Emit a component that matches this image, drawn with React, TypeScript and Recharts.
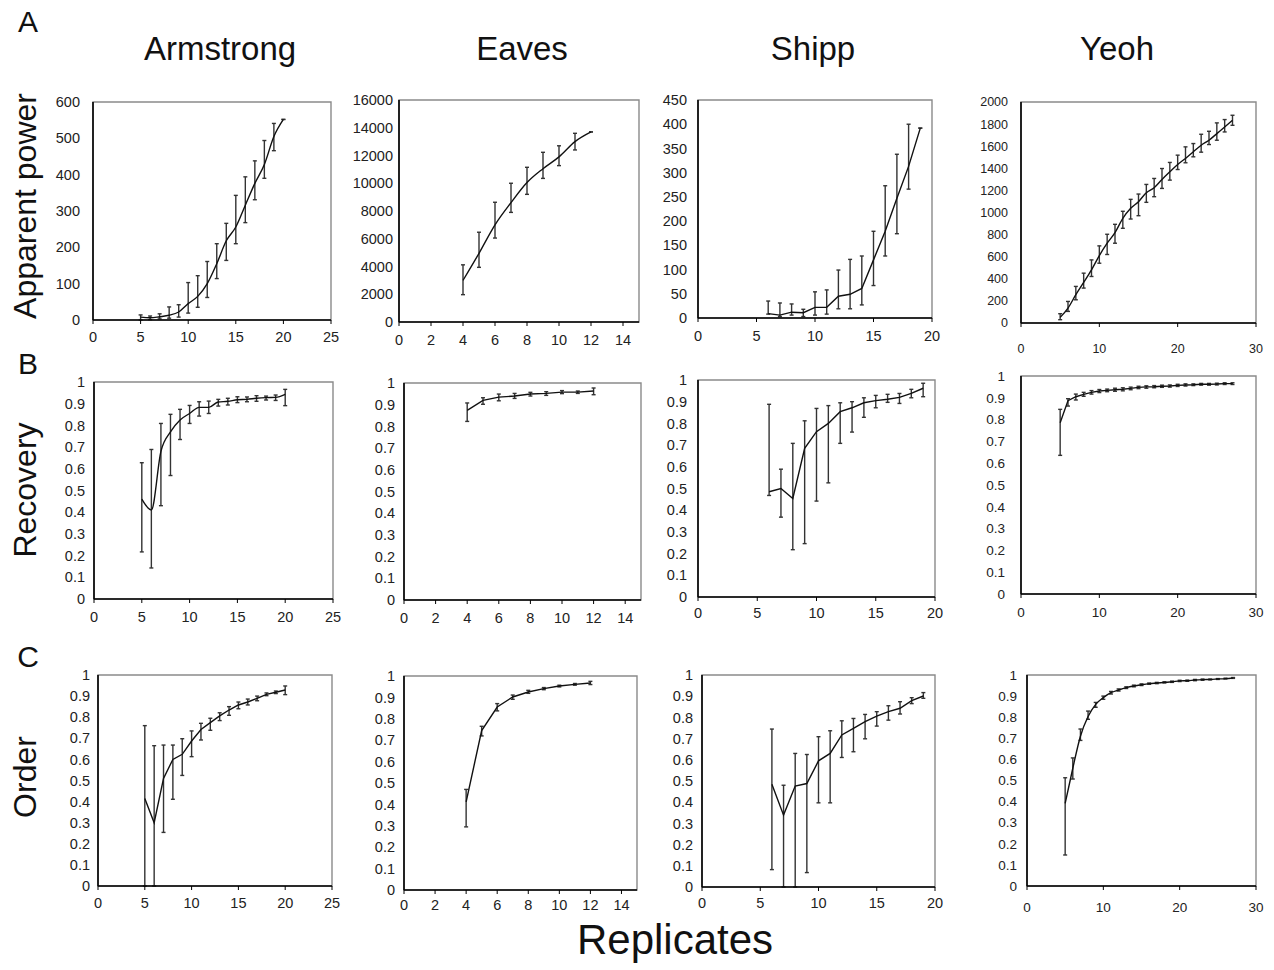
import React from 'react'
import { LineChart, Line, XAxis, YAxis, ErrorBar, ReferenceArea } from 'recharts'

// replicate counts per study
const armstrongX = [5, 6, 7, 8, 9, 10, 11, 12, 13, 14, 15, 16, 17, 18, 19, 20]
const eavesX = [4, 5, 6, 7, 8, 9, 10, 11, 12]
const shippX = [6, 7, 8, 9, 10, 11, 12, 13, 14, 15, 16, 17, 18, 19]
const yeohX = [5, 6, 7, 8, 9, 10, 11, 12, 13, 14, 15, 16, 17, 18, 19, 20, 21, 22, 23, 24, 25, 26, 27]

// A: apparent power
const armstrongPower = [8, 6, 9, 13, 22, 45, 65, 100, 155, 218, 256, 316, 376, 428, 505, 552]
const armstrongPowerLow = [0, 1, 3, 5, 8, 19, 35, 62, 114, 164, 210, 268, 331, 390, 466, 552]
const armstrongPowerHigh = [14, 11, 17, 36, 42, 103, 122, 161, 210, 266, 343, 394, 438, 494, 541, 552]

const eavesPower = [3000, 4950, 7000, 8600, 10050, 11050, 11900, 13000, 13700]
const eavesPowerLow = [1970, 3940, 6050, 7900, 9200, 10350, 11270, 12400, 13700]
const eavesPowerHigh = [4120, 6470, 8630, 10000, 11150, 12230, 12700, 13600, 13700]

const shippPower = [9, 6, 12, 11, 22, 22, 45, 49, 61, 120, 179, 247, 313, 392]
const shippPowerLow = [8, 3, 6, 3, 6, 8, 19, 19, 27, 67, 128, 174, 266, 392]
const shippPowerHigh = [35, 31, 29, 18, 54, 58, 99, 121, 128, 179, 273, 338, 400, 392]

const yeohPower = [51, 135, 256, 367, 481, 610, 722, 818, 947, 1038, 1098, 1179, 1224, 1299, 1368, 1435, 1489, 1549, 1609, 1654, 1714, 1774, 1835]
const yeohPowerLow = [30, 105, 210, 316, 421, 541, 620, 722, 857, 941, 971, 1092, 1143, 1218, 1293, 1389, 1450, 1504, 1546, 1615, 1654, 1729, 1789]
const yeohPowerHigh = [84, 195, 331, 451, 571, 698, 803, 893, 1011, 1119, 1167, 1254, 1308, 1398, 1453, 1519, 1594, 1624, 1708, 1735, 1811, 1841, 1880]

// B: recovery
const armstrongRecovery = [0.46, 0.41, 0.68, 0.77, 0.825, 0.855, 0.883, 0.883, 0.908, 0.911, 0.918, 0.92, 0.925, 0.928, 0.929, 0.943]
const armstrongRecoveryLow = [0.217, 0.143, 0.43, 0.569, 0.735, 0.809, 0.843, 0.855, 0.889, 0.894, 0.905, 0.909, 0.911, 0.917, 0.915, 0.891]
const armstrongRecoveryHigh = [0.628, 0.689, 0.809, 0.851, 0.874, 0.892, 0.909, 0.912, 0.92, 0.925, 0.932, 0.931, 0.937, 0.935, 0.94, 0.966]

const eavesRecovery = [0.874, 0.92, 0.935, 0.94, 0.949, 0.952, 0.958, 0.958, 0.963]
const eavesRecoveryLow = [0.823, 0.902, 0.918, 0.929, 0.94, 0.943, 0.951, 0.952, 0.946]
const eavesRecoveryHigh = [0.908, 0.932, 0.949, 0.952, 0.957, 0.96, 0.965, 0.963, 0.977]

const shippRecovery = [0.485, 0.5, 0.454, 0.685, 0.762, 0.8, 0.854, 0.872, 0.895, 0.905, 0.911, 0.92, 0.938, 0.962]
const shippRecoveryLow = [0.468, 0.368, 0.218, 0.246, 0.442, 0.526, 0.708, 0.76, 0.828, 0.872, 0.897, 0.892, 0.918, 0.923]
const shippRecoveryHigh = [0.888, 0.589, 0.708, 0.812, 0.869, 0.882, 0.895, 0.9, 0.918, 0.929, 0.934, 0.938, 0.957, 0.985]

const yeohRecovery = [0.786, 0.887, 0.905, 0.916, 0.925, 0.931, 0.934, 0.937, 0.939, 0.943, 0.948, 0.95, 0.951, 0.953, 0.954, 0.957, 0.959, 0.96, 0.962, 0.962, 0.963, 0.965, 0.965]
const yeohRecoveryLow = [0.636, 0.862, 0.89, 0.907, 0.917, 0.924, 0.928, 0.93, 0.932, 0.937, 0.942, 0.944, 0.946, 0.948, 0.949, 0.952, 0.954, 0.956, 0.958, 0.958, 0.959, 0.961, 0.961]
const yeohRecoveryHigh = [0.847, 0.896, 0.917, 0.925, 0.933, 0.938, 0.94, 0.944, 0.946, 0.949, 0.953, 0.955, 0.956, 0.958, 0.959, 0.962, 0.964, 0.964, 0.966, 0.966, 0.967, 0.969, 0.969]

// C: order
const armstrongOrder = [0.415, 0.3, 0.51, 0.6, 0.624, 0.687, 0.742, 0.774, 0.806, 0.834, 0.858, 0.872, 0.889, 0.908, 0.918, 0.929]
const armstrongOrderLow = [0, 0, 0.254, 0.411, 0.524, 0.613, 0.692, 0.738, 0.784, 0.809, 0.84, 0.858, 0.878, 0.902, 0.912, 0.907]
const armstrongOrderHigh = [0.76, 0.665, 0.668, 0.668, 0.698, 0.735, 0.771, 0.795, 0.821, 0.85, 0.872, 0.886, 0.9, 0.915, 0.924, 0.948]

const eavesOrder = [0.412, 0.745, 0.855, 0.902, 0.925, 0.941, 0.953, 0.961, 0.967]
const eavesOrderLow = [0.295, 0.72, 0.837, 0.891, 0.919, 0.936, 0.949, 0.957, 0.96]
const eavesOrderHigh = [0.47, 0.765, 0.871, 0.911, 0.933, 0.946, 0.957, 0.965, 0.975]

const shippOrder = [0.485, 0.339, 0.476, 0.488, 0.595, 0.63, 0.717, 0.748, 0.78, 0.806, 0.827, 0.843, 0.879, 0.901]
const shippOrderLow = [0.082, 0, 0, 0.068, 0.397, 0.397, 0.611, 0.638, 0.699, 0.759, 0.787, 0.816, 0.865, 0.89]
const shippOrderHigh = [0.745, 0.48, 0.63, 0.625, 0.709, 0.737, 0.784, 0.795, 0.814, 0.827, 0.855, 0.874, 0.893, 0.917]

const yeohOrder = [0.392, 0.558, 0.71, 0.803, 0.861, 0.893, 0.916, 0.929, 0.94, 0.948, 0.954, 0.959, 0.962, 0.965, 0.968, 0.972, 0.973, 0.976, 0.978, 0.979, 0.981, 0.983, 0.986]
const yeohOrderLow = [0.147, 0.507, 0.69, 0.79, 0.847, 0.885, 0.91, 0.924, 0.936, 0.944, 0.95, 0.956, 0.959, 0.962, 0.965, 0.969, 0.97, 0.973, 0.975, 0.977, 0.979, 0.981, 0.984]
const yeohOrderHigh = [0.513, 0.607, 0.744, 0.829, 0.87, 0.9, 0.922, 0.934, 0.944, 0.952, 0.958, 0.962, 0.965, 0.968, 0.971, 0.975, 0.976, 0.979, 0.981, 0.981, 0.983, 0.985, 0.988]

// axis ticks
const ticks25 = [0, 5, 10, 15, 20, 25]
const ticks14 = [0, 2, 4, 6, 8, 10, 12, 14]
const ticks20 = [0, 5, 10, 15, 20]
const ticks30 = [0, 10, 20, 30]
const ticks600 = [0, 100, 200, 300, 400, 500, 600]
const ticks16000 = [0, 2000, 4000, 6000, 8000, 10000, 12000, 14000, 16000]
const ticks450 = [0, 50, 100, 150, 200, 250, 300, 350, 400, 450]
const ticks2000 = [0, 200, 400, 600, 800, 1000, 1200, 1400, 1600, 1800, 2000]
const ticksFrac = [0, 0.1, 0.2, 0.3, 0.4, 0.5, 0.6, 0.7, 0.8, 0.9, 1]

const studies = ['Armstrong', 'Eaves', 'Shipp', 'Yeoh']
const rowNames = ['Apparent power', 'Recovery', 'Order']
const rowLetters = ['A', 'B', 'C']

const FONT = '"Liberation Sans", Arial, sans-serif'

type PanelDef = {
  xs: number[]
  mean: number[]
  low: number[]
  high: number[]
  box: [number, number, number, number] // plot left, top, right, bottom
  xMax: number
  xTicks: number[]
  yMax: number
  yTicks: number[]
  curve: 'linear' | 'monotone'
  yGap: number
  xGap: number
  fs: number
}

const panels: PanelDef[] = [
  { xs: armstrongX, mean: armstrongPower, low: armstrongPowerLow, high: armstrongPowerHigh, box: [93, 102, 331, 320], xMax: 25, xTicks: ticks25, yMax: 600, yTicks: ticks600, curve: 'monotone', yGap: 13, xGap: 8, fs: 14.5 },
  { xs: eavesX, mean: eavesPower, low: eavesPowerLow, high: eavesPowerHigh, box: [399, 100, 639, 322], xMax: 15, xTicks: ticks14, yMax: 16000, yTicks: ticks16000, curve: 'monotone', yGap: 6, xGap: 9, fs: 14.5 },
  { xs: shippX, mean: shippPower, low: shippPowerLow, high: shippPowerHigh, box: [698, 100, 932, 318], xMax: 20, xTicks: ticks20, yMax: 450, yTicks: ticks450, curve: 'linear', yGap: 11, xGap: 9, fs: 14.5 },
  { xs: yeohX, mean: yeohPower, low: yeohPowerLow, high: yeohPowerHigh, box: [1021, 102, 1256, 323], xMax: 30, xTicks: ticks30, yMax: 2000, yTicks: ticks2000, curve: 'monotone', yGap: 13, xGap: 17, fs: 12.5 },

  { xs: armstrongX, mean: armstrongRecovery, low: armstrongRecoveryLow, high: armstrongRecoveryHigh, box: [94, 382, 333, 599], xMax: 25, xTicks: ticks25, yMax: 1, yTicks: ticksFrac, curve: 'monotone', yGap: 9, xGap: 9, fs: 14.5 },
  { xs: eavesX, mean: eavesRecovery, low: eavesRecoveryLow, high: eavesRecoveryHigh, box: [404, 383, 641, 600], xMax: 15, xTicks: ticks14, yMax: 1, yTicks: ticksFrac, curve: 'linear', yGap: 9, xGap: 9, fs: 14.5 },
  { xs: shippX, mean: shippRecovery, low: shippRecoveryLow, high: shippRecoveryHigh, box: [698, 380, 935, 597], xMax: 20, xTicks: ticks20, yMax: 1, yTicks: ticksFrac, curve: 'linear', yGap: 11, xGap: 7, fs: 14.5 },
  { xs: yeohX, mean: yeohRecovery, low: yeohRecoveryLow, high: yeohRecoveryHigh, box: [1021, 376, 1256, 594], xMax: 30, xTicks: ticks30, yMax: 1, yTicks: ticksFrac, curve: 'linear', yGap: 16, xGap: 9, fs: 13.5 },

  { xs: armstrongX, mean: armstrongOrder, low: armstrongOrderLow, high: armstrongOrderHigh, box: [98, 675, 332, 886], xMax: 25, xTicks: ticks25, yMax: 1, yTicks: ticksFrac, curve: 'linear', yGap: 8, xGap: 8, fs: 14.5 },
  { xs: eavesX, mean: eavesOrder, low: eavesOrderLow, high: eavesOrderHigh, box: [404, 676, 637, 890], xMax: 15, xTicks: ticks14, yMax: 1, yTicks: ticksFrac, curve: 'linear', yGap: 9, xGap: 6, fs: 14.5 },
  { xs: shippX, mean: shippOrder, low: shippOrderLow, high: shippOrderHigh, box: [702, 675, 935, 887], xMax: 20, xTicks: ticks20, yMax: 1, yTicks: ticksFrac, curve: 'linear', yGap: 9, xGap: 7, fs: 14.5 },
  { xs: yeohX, mean: yeohOrder, low: yeohOrderLow, high: yeohOrderHigh, box: [1027, 675, 1256, 886], xMax: 30, xTicks: ticks30, yMax: 1, yTicks: ticksFrac, curve: 'monotone', yGap: 10, xGap: 12, fs: 13.5 },
]

function Panel({ p }: { p: PanelDef }) {
  const [l, t, r, b] = p.box
  const L = 70, T = 10, R = 10, B = 40
  const data = p.xs.map((x, i) => ({
    x,
    y: p.mean[i],
    err: [p.mean[i] - p.low[i], p.high[i] - p.mean[i]],
  }))
  const tick = { fontSize: p.fs, fill: '#222', fontFamily: FONT }
  return (
    <div style={{ position: 'absolute', left: l - L, top: t - T }}>
      <LineChart width={r - l + L + R} height={b - t + T + B} data={data} margin={{ top: T, right: R, bottom: 0, left: 0 }}>
        <ReferenceArea x1={0} x2={p.xMax} y1={0} y2={p.yMax} fill="none" stroke="#8a8a8a" strokeWidth={1.4} />
        <XAxis
          dataKey="x" type="number" domain={[0, p.xMax]} ticks={p.xTicks} allowDataOverflow interval={0}
          height={B} tickSize={4} tickMargin={p.xGap} tick={tick}
          tickLine={{ stroke: '#000' }} axisLine={{ stroke: '#000', strokeWidth: 1.6 }}
        />
        <YAxis
          type="number" domain={[0, p.yMax]} ticks={p.yTicks} allowDataOverflow interval={0}
          width={L} tickSize={p.yGap} tickMargin={0} tickLine={false} tick={tick}
          axisLine={{ stroke: '#000', strokeWidth: 1.6 }}
        />
        <Line dataKey="y" type={p.curve} stroke="#111" strokeWidth={1.4} dot={false} isAnimationActive={false}>
          <ErrorBar dataKey="err" direction="y" width={2} stroke="#333" strokeWidth={1.4} isAnimationActive={false} />
        </Line>
      </LineChart>
    </div>
  )
}

const titleX = [220, 522, 813, 1117]
const rowY = [206, 490, 777]
const letterY = [32, 374, 667]

export default function App() {
  return (
    <div style={{ position: 'absolute', left: 0, top: 0, width: 1274, height: 970, background: '#fff', fontFamily: FONT }}>
      {panels.map((p, i) => <Panel key={i} p={p} />)}
      <svg width={1274} height={970} style={{ position: 'absolute', left: 0, top: 0, pointerEvents: 'none' }}>
        {studies.map((s, i) => (
          <text key={s} x={titleX[i]} y={60} textAnchor="middle" fontSize={33} fontFamily={FONT} fill="#111">{s}</text>
        ))}
        {rowLetters.map((s, i) => (
          <text key={s} x={28} y={letterY[i]} textAnchor="middle" fontSize={30} fontFamily={FONT} fill="#111">{s}</text>
        ))}
        {rowNames.map((s, i) => (
          <text key={s} x={0} y={0} transform={`translate(36, ${rowY[i]}) rotate(-90)`} textAnchor="middle" fontSize={32} fontFamily={FONT} fill="#111">{s}</text>
        ))}
        <text x={675} y={954} textAnchor="middle" fontSize={42} fontFamily={FONT} fill="#111">Replicates</text>
      </svg>
    </div>
  )
}
